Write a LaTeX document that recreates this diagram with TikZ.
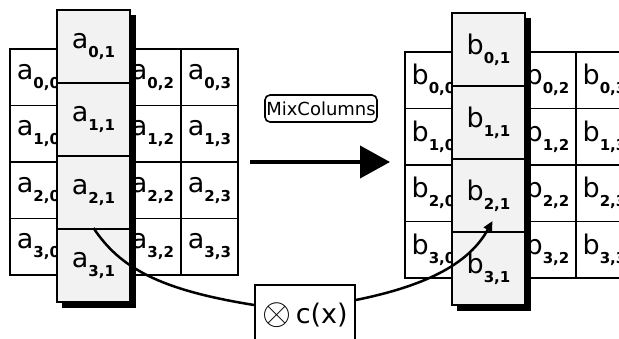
\documentclass[tikz,border=0pt]{standalone}
\usepackage{fontspec}
\setmainfont{DejaVu Sans}
\usetikzlibrary{arrows.meta}
\newcommand{\lab}[3]{\fontsize{27}{27}\selectfont #1\raisebox{-9pt}{\fontsize{15}{15}\selectfont\bfseries #2,#3}}
\begin{document}
\begin{tikzpicture}[x=1pt,y=-1pt,
  cell/.style={draw,line width=1.6pt,minimum width=57pt,minimum height=56.5pt,inner sep=0pt},
  hcell/.style={draw,line width=2pt,fill=gray!10,minimum width=73pt,minimum height=73pt,inner sep=0pt},
  shadowbox/.style={fill=black},
  link/.style={line width=2.5pt},
  opbox/.style={draw,line width=1.6pt,inner sep=0pt}]
\clip (0,0) rectangle (619,338);
% grids
\foreach \r in {0,...,3}{\foreach \c in {0,...,3}{
  \node[cell] (a\r\c) at ({10+57*(\c+0.5)},{49+56.5*(\r+0.5)}) {\lab{a}{\r}{\c}};
  \node[cell] (b\r\c) at ({405+57*(\c+0.5)},{52+56.5*(\r+0.5)}) {\lab{b}{\r}{\c}};
}}
% highlighted columns
\fill[shadowbox] (62,15) rectangle (136,308);
\fill[shadowbox] (457,18) rectangle (531,311);
\foreach \r in {0,...,3}{
  \node[hcell] (A\r) at (93.5,{10+73*(\r+0.5)}) {\lab{a}{\r}{1}};
  \node[hcell] (B\r) at (488.5,{13+73*(\r+0.5)}) {\lab{b}{\r}{1}};
}
% MixColumns
\node[opbox,rounded corners=5pt,minimum width=112pt,minimum height=27pt] (mix) at (321,108.5)
  {\fontsize{18}{18}\selectfont MixColumns};
\coordinate (m1) at (250,162);
\coordinate (m2) at (390,162);
\draw[line width=4pt,-{Triangle[length=30pt,width=32pt]}] (m1) -- (m2);
% c(x)
\node[opbox,minimum width=100pt,minimum height=60pt] (cx) at (305,315)
  {\fontsize{27}{27}\selectfont\raisebox{-1pt}{\scalebox{1.5}{$\otimes$}}\,c(x)};
\draw[link] (A3.north) .. controls (120,268) and (160,290) .. (cx.west |- 0,305);
\draw[link,-{Triangle[length=10pt,width=9pt]}] (cx.east |- 0,300) .. controls (430,285) and (470,262) .. ([shift={(4pt,10pt)}]B3.north);
\end{tikzpicture}
\end{document}
